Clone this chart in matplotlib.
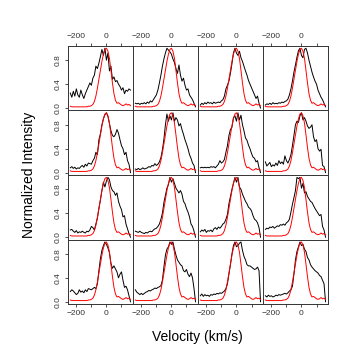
import matplotlib
matplotlib.use('Agg')
import matplotlib.pyplot as plt

plt.rcParams['font.family'] = ['Liberation Sans', 'DejaVu Sans']

# velocity grid (km/s)
velocity = [-240, -230, -220, -210, -200, -190, -180, -170, -160, -150,
            -140, -130, -120, -110, -100, -90, -80, -70, -60, -50,
            -40, -30, -20, -10, 0, 10, 20, 30, 40, 50,
            60, 70, 80, 90, 100, 110, 120, 130, 140, 150, 160]

# narrow reference profile (red)
reference = [0.03, 0.02, 0.02, 0.02, 0.02, 0.02, 0.02, 0.02, 0.02, 0.02,
             0.02, 0.02, 0.03, 0.03, 0.04, 0.06, 0.11, 0.20, 0.33, 0.48,
             0.63, 0.78, 0.90, 0.98, 1.00, 0.95, 0.83, 0.63, 0.42, 0.24,
             0.13, 0.08, 0.09, 0.07, 0.05, 0.04, 0.05, 0.07, 0.05, 0.06, 0.04]

# observed profiles (black), row by row
p01 = [0.25, 0.18, 0.28, 0.20, 0.32, 0.22, 0.18, 0.30, 0.22, 0.16,
       0.24, 0.30, 0.36, 0.42, 0.38, 0.50, 0.55, 0.70, 0.66, 0.75,
       0.86, 0.98, 0.88, 1.00, 0.80, 0.92, 0.62, 0.70, 0.48, 0.52,
       0.44, 0.46, 0.40, 0.36, 0.30, 0.34, 0.24, 0.30, 0.28, 0.32, 0.30]
p02 = [0.08, 0.07, 0.08, 0.06, 0.08, 0.07, 0.09, 0.07, 0.10, 0.08,
       0.12, 0.10, 0.14, 0.18, 0.22, 0.30, 0.42, 0.55, 0.70, 0.82,
       0.92, 1.00, 0.97, 0.94, 0.90, 0.82, 0.76, 0.66, 0.58, 0.72,
       0.55, 0.45, 0.50, 0.38, 0.30, 0.32, 0.22, 0.18, 0.14, 0.08, 0.02]
p03 = [0.05, 0.08, 0.06, 0.09, 0.07, 0.10, 0.08, 0.09, 0.07, 0.10,
       0.08, 0.09, 0.10, 0.09, 0.12, 0.14, 0.20, 0.32, 0.38, 0.45,
       0.58, 0.74, 0.92, 1.00, 0.92, 0.88, 0.95, 0.84, 0.78, 0.70,
       0.62, 0.55, 0.46, 0.40, 0.34, 0.28, 0.22, 0.16, 0.20, 0.08, 0.00]
p04 = [0.05, 0.07, 0.06, 0.08, 0.06, 0.09, 0.07, 0.08, 0.07, 0.09,
       0.08, 0.10, 0.09, 0.11, 0.12, 0.15, 0.22, 0.32, 0.45, 0.60,
       0.72, 0.85, 0.96, 1.00, 0.88, 0.84, 0.98, 1.00, 0.92, 0.80,
       0.70, 0.60, 0.52, 0.45, 0.40, 0.30, 0.24, 0.18, 0.14, 0.08, 0.02]
p05 = [0.08, 0.10, 0.07, 0.09, 0.06, 0.08, 0.07, 0.10, 0.12, 0.09,
       0.14, 0.11, 0.16, 0.15, 0.14, 0.20, 0.24, 0.34, 0.30, 0.55,
       0.65, 0.80, 0.90, 0.97, 1.00, 0.94, 0.82, 0.70, 0.62, 0.60,
       0.64, 0.72, 0.66, 0.55, 0.45, 0.40, 0.30, 0.34, 0.20, 0.14, 0.00]
p06 = [0.06, 0.05, 0.07, 0.05, 0.06, 0.08, 0.06, 0.07, 0.08, 0.10,
       0.09, 0.12, 0.11, 0.15, 0.12, 0.14, 0.18, 0.25, 0.38, 0.56,
       0.80, 0.98, 0.86, 0.95, 0.88, 1.00, 0.86, 0.92, 0.88, 0.78,
       0.82, 0.72, 0.64, 0.55, 0.48, 0.40, 0.30, 0.24, 0.16, 0.12, 0.00]
p07 = [0.08, 0.09, 0.08, 0.09, 0.08, 0.09, 0.08, 0.10, 0.09, 0.10,
       0.08, 0.11, 0.14, 0.20, 0.16, 0.18, 0.22, 0.34, 0.45, 0.62,
       0.72, 0.76, 0.92, 0.95, 0.86, 1.00, 0.88, 0.96, 0.80, 0.70,
       0.58, 0.54, 0.46, 0.40, 0.32, 0.26, 0.24, 0.18, 0.20, 0.08, 0.00]
p08 = [0.18, 0.11, 0.14, 0.17, 0.10, 0.13, 0.11, 0.16, 0.12, 0.20,
       0.15, 0.18, 0.14, 0.28, 0.20, 0.16, 0.22, 0.30, 0.45, 0.62,
       0.80, 0.86, 0.84, 0.95, 1.00, 0.88, 0.92, 0.86, 0.78, 0.74,
       0.76, 0.80, 0.60, 0.52, 0.55, 0.40, 0.36, 0.39, 0.12, 0.10, 0.00]
p09 = [0.12, 0.13, 0.10, 0.08, 0.11, 0.07, 0.09, 0.08, 0.10, 0.08,
       0.07, 0.10, 0.09, 0.12, 0.18, 0.16, 0.12, 0.22, 0.32, 0.48,
       0.62, 0.78, 0.92, 0.84, 0.94, 1.00, 0.96, 0.84, 0.78, 0.76,
       0.70, 0.74, 0.60, 0.52, 0.46, 0.34, 0.36, 0.22, 0.14, 0.06, 0.00]
p10 = [0.10, 0.09, 0.08, 0.10, 0.08, 0.07, 0.06, 0.08, 0.07, 0.09,
       0.10, 0.09, 0.12, 0.14, 0.15, 0.18, 0.22, 0.30, 0.40, 0.58,
       0.70, 0.82, 0.88, 1.00, 0.92, 0.98, 0.90, 0.82, 0.78, 0.74,
       0.78, 0.72, 0.60, 0.56, 0.48, 0.42, 0.34, 0.22, 0.18, 0.10, 0.00]
p11 = [0.09, 0.12, 0.10, 0.13, 0.08, 0.11, 0.10, 0.12, 0.09, 0.14,
       0.16, 0.13, 0.17, 0.15, 0.18, 0.22, 0.24, 0.30, 0.38, 0.56,
       0.68, 0.80, 0.90, 1.00, 0.92, 1.00, 0.84, 0.80, 0.72, 0.66,
       0.60, 0.56, 0.50, 0.48, 0.44, 0.36, 0.30, 0.28, 0.24, 0.16, 0.00]
p12 = [0.13, 0.15, 0.14, 0.17, 0.16, 0.18, 0.15, 0.17, 0.19, 0.18,
       0.21, 0.20, 0.22, 0.20, 0.24, 0.26, 0.30, 0.42, 0.55, 0.66,
       0.78, 1.00, 0.98, 1.00, 0.82, 0.90, 0.74, 0.76, 0.68, 0.64,
       0.60, 0.58, 0.53, 0.48, 0.44, 0.40, 0.36, 0.38, 0.18, 0.12, 0.00]
p13 = [0.17, 0.20, 0.18, 0.15, 0.12, 0.14, 0.20, 0.16, 0.18, 0.15,
       0.20, 0.17, 0.22, 0.21, 0.20, 0.22, 0.24, 0.22, 0.30, 0.52,
       0.72, 0.86, 0.94, 1.00, 0.96, 0.90, 0.82, 0.64, 0.56, 0.60,
       0.55, 0.50, 0.40, 0.46, 0.50, 0.36, 0.24, 0.26, 0.20, 0.10, 0.00]
p14 = [0.20, 0.16, 0.14, 0.12, 0.14, 0.12, 0.14, 0.16, 0.17, 0.19,
       0.18, 0.20, 0.21, 0.23, 0.22, 0.24, 0.25, 0.27, 0.36, 0.58,
       0.78, 0.88, 0.92, 1.00, 0.96, 1.00, 0.88, 0.78, 0.70, 0.66,
       0.62, 0.60, 0.52, 0.50, 0.54, 0.46, 0.42, 0.48, 0.40, 0.22, 0.00]
p15 = [0.10, 0.13, 0.09, 0.12, 0.10, 0.11, 0.09, 0.12, 0.11, 0.13,
       0.12, 0.14, 0.13, 0.15, 0.14, 0.16, 0.18, 0.22, 0.30, 0.46,
       0.62, 0.80, 0.94, 1.00, 0.92, 0.94, 0.98, 1.00, 0.86, 0.76,
       0.70, 0.62, 0.60, 0.60, 0.58, 0.56, 0.54, 0.55, 0.58, 0.52, 0.00]
p16 = [0.10, 0.08, 0.11, 0.09, 0.10, 0.08, 0.09, 0.11, 0.10, 0.12,
       0.11, 0.12, 0.13, 0.14, 0.13, 0.15, 0.18, 0.20, 0.26, 0.46,
       0.70, 0.84, 0.92, 1.00, 0.94, 0.96, 0.88, 0.84, 0.74, 0.70,
       0.62, 0.58, 0.55, 0.52, 0.50, 0.48, 0.44, 0.42, 0.36, 0.30, 0.00]

profiles = [p01, p02, p03, p04, p05, p06, p07, p08,
            p09, p10, p11, p12, p13, p14, p15, p16]

xticks = [-200, -100, 0, 100]
xticklabels = ['\u2212200', '', '0', '']
yticks = [0.0, 0.4, 0.8]
yticklabels = ['0.0', '0.4', '0.8']

fig, axes = plt.subplots(4, 4, figsize=(3.5, 3.5), dpi=100)
fig.subplots_adjust(left=0.194, right=0.937, top=0.869, bottom=0.131,
                    wspace=0, hspace=0)

for i, ax in enumerate(axes.flat):
    row, col = divmod(i, 4)
    ax.plot(velocity, profiles[i], color='black', lw=0.7)
    ax.plot(velocity, reference, color='#ff0000', lw=0.7)
    ax.set_xlim(-256, 176)
    ax.set_ylim(-0.04, 1.04)
    for s in ax.spines.values():
        s.set_linewidth(0.7)
        s.set_color('#333333')

    ax.set_xticks(xticks)
    ax.set_yticks(yticks)
    ax.tick_params(direction='out', length=2.5, width=0.6, pad=2,
                   labelsize=6, colors='#333333',
                   top=(row == 0), labeltop=(row == 0),
                   bottom=(row == 3), labelbottom=(row == 3),
                   left=(col == 0), labelleft=(col == 0),
                   right=False, labelright=False)
    ax.set_xticklabels(xticklabels)
    ax.set_yticklabels(yticklabels, rotation=90, va='center')

fig.text(0.083, 0.5, 'Normalized Intensity', rotation=90,
         ha='center', va='center', fontsize=10)
fig.text(0.564, 0.036, 'Velocity (km/s)', ha='center', va='center',
         fontsize=10)

fig.savefig('out.png', dpi=100)
